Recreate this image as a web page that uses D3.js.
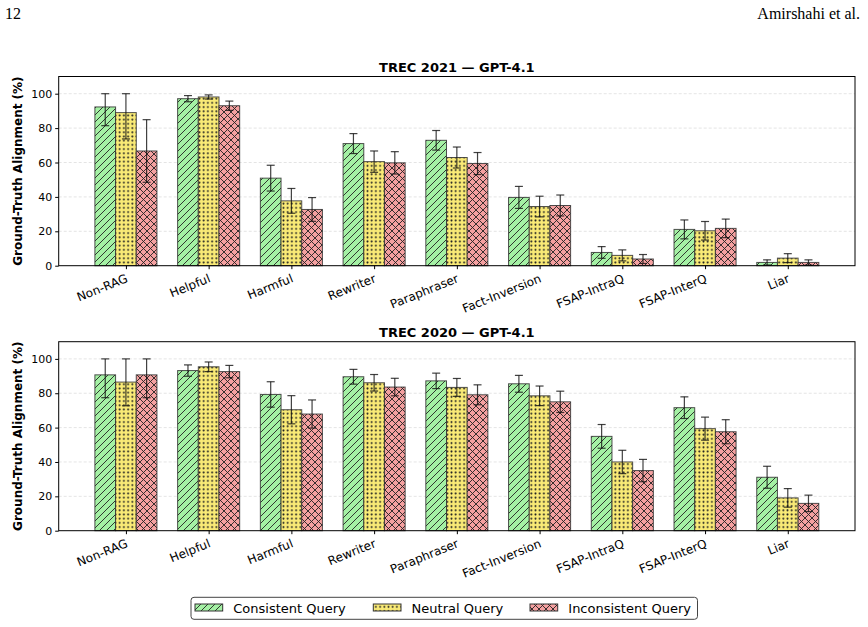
<!DOCTYPE html>
<html>
<head>
<meta charset="utf-8">
<script src="https://cdn.jsdelivr.net/npm/d3@7"></script>
<style>
  body { margin: 0; background: #fff; }
  svg { display: block; }
</style>
</head>
<body>
<svg id="fig" width="868" height="627"></svg>
<script>
// Categories and series
const categories = ["Non-RAG", "Helpful", "Harmful", "Rewriter", "Paraphraser",
  "Fact-Inversion", "FSAP-IntraQ", "FSAP-InterQ", "Liar"];
const seriesNames = ["Consistent Query", "Neutral Query", "Inconsistent Query"];
const yTicks = [0, 20, 40, 60, 80, 100];

// TREC 2021 — mean and error
const t21Consistent = [92.3, 97.1, 50.9, 71.0, 72.9, 39.7, 7.7, 21.1, 1.9];
const t21ConsistentErr = [10.9, 1.8, 7.5, 5.8, 5.7, 6.4, 3.4, 5.5, 1.5];
const t21Neutral = [89.0, 98.1, 37.7, 60.5, 62.9, 34.4, 6.0, 20.3, 4.4];
const t21NeutralErr = [15.3, 1.2, 7.2, 6.2, 6.1, 6.0, 3.2, 5.4, 2.6];
const t21Inconsistent = [66.7, 93.0, 32.7, 59.8, 59.4, 35.0, 3.9, 21.7, 1.9];
const t21InconsistentErr = [18.2, 2.7, 6.9, 6.5, 6.4, 6.1, 2.6, 5.4, 1.5];

// TREC 2020 — mean and error
const t20Consistent = [90.7, 93.2, 79.3, 89.6, 87.2, 85.5, 54.9, 71.6, 31.1];
const t20ConsistentErr = [13.3, 3.3, 7.4, 4.3, 4.5, 4.9, 6.9, 6.3, 6.4];
const t20Neutral = [86.5, 95.4, 70.4, 86.1, 83.4, 78.5, 40.0, 59.4, 19.1];
const t20NeutralErr = [13.8, 2.8, 8.2, 4.8, 5.2, 5.7, 6.8, 6.7, 5.4];
const t20Inconsistent = [90.7, 92.6, 67.9, 83.6, 79.1, 75.0, 35.0, 57.6, 15.9];
const t20InconsistentErr = [13.3, 3.6, 8.2, 5.1, 5.8, 6.2, 6.5, 7.0, 4.8];

const colors = ["#a4f1a4", "#f9ea76", "#f4a0a0"];
const hatchIds = ["hatchDiag", "hatchDots", "hatchCross"];

const svg = d3.select("#fig");

// Hatch patterns
const defs = svg.append("defs");
function makePattern(id, fill, size, draw) {
  const p = defs.append("pattern")
    .attr("id", id)
    .attr("patternUnits", "userSpaceOnUse")
    .attr("width", size).attr("height", size);
  p.append("rect").attr("width", size).attr("height", size).attr("fill", fill);
  draw(p, size);
}
makePattern(hatchIds[0], colors[0], 7, (p, s) => {
  p.append("path")
    .attr("d", `M0,${s} L${s},0 M${-s / 2},${s / 2} L${s / 2},${-s / 2} M${s / 2},${s * 1.5} L${s * 1.5},${s / 2}`)
    .attr("stroke", "#222").attr("stroke-width", 0.9);
});
makePattern(hatchIds[1], colors[1], 4.2, (p, s) => {
  p.append("circle").attr("cx", s / 2).attr("cy", s / 2).attr("r", 0.95).attr("fill", "#222");
});
makePattern(hatchIds[2], colors[2], 7, (p, s) => {
  p.append("path")
    .attr("d", `M0,0 L${s},${s} M0,${s} L${s},0`)
    .attr("stroke", "#222").attr("stroke-width", 0.9);
});

// Page header
svg.append("text").attr("x", 5).attr("y", 19)
  .attr("font-family", "Liberation Serif, serif").attr("font-size", 16)
  .text("12");
svg.append("text").attr("x", 860).attr("y", 19)
  .attr("text-anchor", "end")
  .attr("font-family", "Liberation Serif, serif").attr("font-size", 16)
  .text("Amirshahi et al.");

const plotLeft = 58.7, plotRight = 855;
const xScale = d3.scaleLinear().domain([-0.8125, 8.8125]).range([plotLeft, plotRight]);
const barW = 0.25;
const offsets = [-0.25, 0, 0.25];

function drawPanel(top, bottom, title, means, errs) {
  const yScale = d3.scaleLinear().domain([0, 110]).range([bottom, top]);
  const g = svg.append("g");

  // grid
  g.append("g").selectAll("line").data(yTicks.slice(1)).join("line")
    .attr("x1", plotLeft).attr("x2", plotRight)
    .attr("y1", d => yScale(d)).attr("y2", d => yScale(d))
    .attr("stroke", "#ddd").attr("stroke-width", 0.8)
    .attr("stroke-dasharray", "3,2");

  // bars
  means.forEach((vals, s) => {
    g.append("g").selectAll("rect").data(vals).join("rect")
      .attr("x", (d, i) => xScale(i + offsets[s] - barW / 2))
      .attr("width", xScale(barW) - xScale(0))
      .attr("y", d => yScale(d))
      .attr("height", d => yScale(0) - yScale(d))
      .attr("fill", `url(#${hatchIds[s]})`)
      .attr("stroke", "#333").attr("stroke-opacity", 0.85).attr("stroke-width", 1);
  });

  // error bars (clipped to 0..100)
  means.forEach((vals, s) => {
    const eg = g.append("g").attr("stroke", "#111").attr("stroke-opacity", 0.8).attr("stroke-width", 1.2);
    vals.forEach((v, i) => {
      const cx = xScale(i + offsets[s]);
      const lo = Math.max(0, v - errs[s][i]);
      const hi = Math.min(100, v + errs[s][i]);
      eg.append("line").attr("x1", cx).attr("x2", cx)
        .attr("y1", yScale(lo)).attr("y2", yScale(hi));
      [lo, hi].forEach(e => {
        eg.append("line").attr("x1", cx - 4).attr("x2", cx + 4)
          .attr("y1", yScale(e)).attr("y2", yScale(e));
      });
    });
  });

  // frame
  g.append("rect").attr("x", plotLeft).attr("y", top)
    .attr("width", plotRight - plotLeft).attr("height", bottom - top)
    .attr("fill", "none").attr("stroke", "#000").attr("stroke-width", 1);

  // y axis
  const yAxis = g.append("g").attr("transform", `translate(${plotLeft},0)`)
    .call(d3.axisLeft(yScale).tickValues(yTicks).tickSize(3.5).tickPadding(3));
  yAxis.select(".domain").remove();
  yAxis.selectAll("text").attr("font-family", "DejaVu Sans").attr("font-size", 11).attr("fill", "#000");

  // x axis
  const xAxis = g.append("g").attr("transform", `translate(0,${bottom})`)
    .call(d3.axisBottom(xScale).tickValues(d3.range(categories.length)).tickSize(3.5).tickFormat(""));
  xAxis.select(".domain").remove();
  g.append("g").selectAll("text").data(categories).join("text")
    .attr("transform", (d, i) => `translate(${xScale(i) - 1},${bottom + 7}) rotate(-22)`)
    .attr("text-anchor", "end")
    .attr("dy", "0.8em")
    .attr("font-family", "DejaVu Sans").attr("font-size", 12)
    .text(d => d);

  // title
  g.append("text").attr("x", (plotLeft + plotRight) / 2).attr("y", top - 5)
    .attr("text-anchor", "middle")
    .attr("font-family", "DejaVu Sans").attr("font-weight", "bold").attr("font-size", 13)
    .text(title);

  // y label
  g.append("text")
    .attr("transform", `translate(22,${(top + bottom) / 2}) rotate(-90)`)
    .attr("text-anchor", "middle")
    .attr("font-family", "DejaVu Sans").attr("font-weight", "bold").attr("font-size", 12)
    .text("Ground-Truth Alignment (%)");
}

drawPanel(76.5, 265.7, "TREC 2021 — GPT-4.1",
  [t21Consistent, t21Neutral, t21Inconsistent],
  [t21ConsistentErr, t21NeutralErr, t21InconsistentErr]);
drawPanel(341.7, 530.7, "TREC 2020 — GPT-4.1",
  [t20Consistent, t20Neutral, t20Inconsistent],
  [t20ConsistentErr, t20NeutralErr, t20InconsistentErr]);

// Legend
const legend = svg.append("g");
legend.append("rect").attr("x", 191).attr("y", 597.3)
  .attr("width", 506.5).attr("height", 22).attr("rx", 3)
  .attr("fill", "#fff").attr("stroke", "#444").attr("stroke-width", 1);
const legendX = [195, 373.3, 530];
seriesNames.forEach((name, s) => {
  legend.append("rect").attr("x", legendX[s]).attr("y", 604)
    .attr("width", 27.7).attr("height", 7)
    .attr("fill", `url(#${hatchIds[s]})`)
    .attr("stroke", "#333").attr("stroke-width", 1);
  legend.append("text").attr("x", legendX[s] + 38.3).attr("y", 612.5)
    .attr("font-family", "DejaVu Sans").attr("font-size", 13)
    .text(name);
});
</script>
</body>
</html>
